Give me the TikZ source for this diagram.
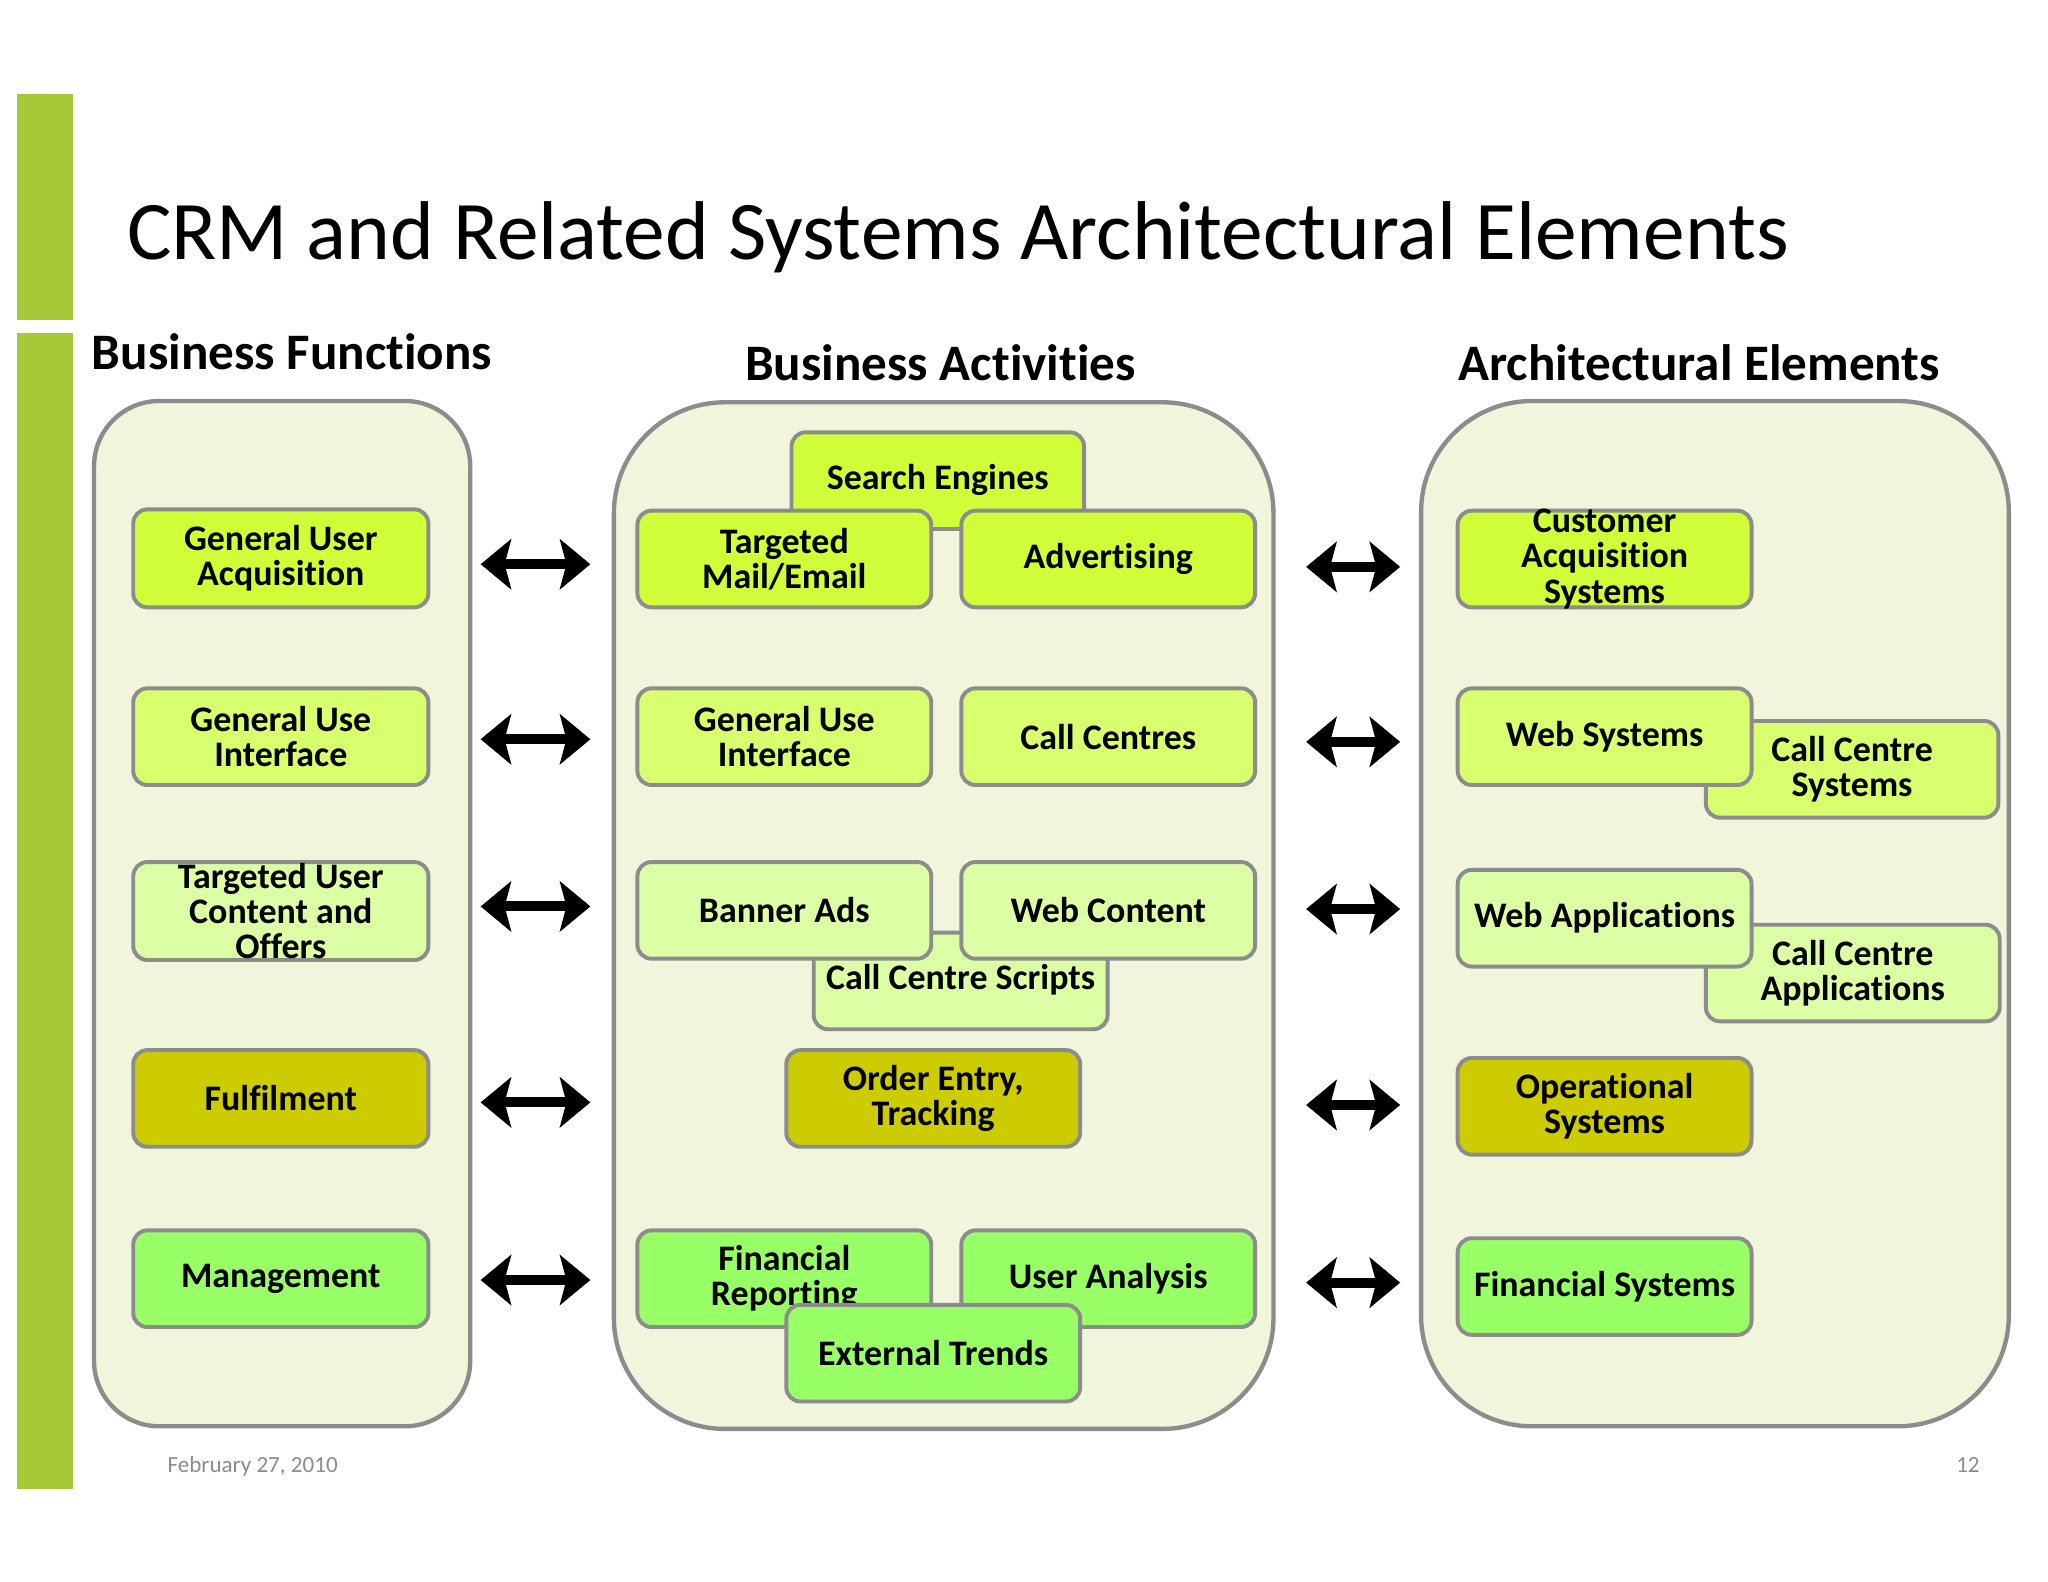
\documentclass[tikz,border=0pt]{standalone}
\usepackage{fontspec}
\setmainfont{Carlito}[RawFeature={-liga;-clig;-dlig;-calt}]
\usetikzlibrary{arrows.meta}
\definecolor{bargreen}{RGB}{166,202,55}
\definecolor{bordgray}{RGB}{140,140,140}
\definecolor{panelfill}{RGB}{240,245,220}
\definecolor{cA}{RGB}{208,255,58}
\definecolor{cB}{RGB}{215,255,110}
\definecolor{cC}{RGB}{220,255,165}
\definecolor{cD}{RGB}{204,204,0}
\definecolor{cE}{RGB}{153,255,102}
\definecolor{footgray}{RGB}{140,140,140}
\newcommand\tI{t\kern0pt i}
\newcommand\boxfont{\fontsize{16.5pt}{16.1pt}\selectfont\bfseries}
\newcommand\abox[7]{%
  \node[boxst, fill=#2, minimum width={(#5-#3)*0.6pt}, minimum height={(#6-#4)*0.6pt}] (#1) at ({(#3+#5)/2},{(#4+#6)/2}) {};
  \node[txt] (#1t) at (#1.center) {#7};}
\tikzset{
  panel/.style={draw=bordgray, line width=2pt, fill=panelfill, inner sep=0pt},
  boxst/.style={draw=bordgray, line width=1.8pt, rounded corners=6.5pt, inner sep=0pt},
  txt/.style={font=\boxfont, align=center, inner sep=0pt},
  dbl/.style={line width=4.6pt, {Stealth[length=14pt,width=23pt,inset=3pt]}-{Stealth[length=14pt,width=23pt,inset=3pt]}},
  head/.style={font=\fontsize{23.5pt}{28pt}\selectfont\bfseries, inner sep=0pt},
}
\begin{document}
\begin{tikzpicture}[x=0.6pt,y=-0.6pt]
\useasboundingbox (0,0) rectangle (1568,1211);
\fill[white] (0,0) rectangle (1568,1211);
% side bars
\node[fill=bargreen, minimum width={43*0.6pt}, minimum height={173*0.6pt}, inner sep=0pt] (bar1) at (34.5,158.5) {};
\node[fill=bargreen, minimum width={43*0.6pt}, minimum height={885*0.6pt}, inner sep=0pt] (bar2) at (34.5,697.5) {};
% title
\node[anchor=base west, inner sep=0pt, font=\fontsize{38.3pt}{45pt}\selectfont] (title) at (97,199) {CRM and Related Systems Architectural Elements};
% headings
\node[head, anchor=base west] (h1) at (70,283) {Business Func\tI ons};
\node[head, anchor=base] (h2) at (720,291) {Business Ac\tI vi\tI es};
\node[head, anchor=base] (h3) at (1301,291) {Architectural Elements};
% panels
\node[panel, rounded corners=30pt, minimum width={288*0.6pt}, minimum height={785*0.6pt}] (lp) at (216,699.5) {};
\node[panel, rounded corners=51pt, minimum width={505*0.6pt}, minimum height={786*0.6pt}] (mp) at (722.5,701) {};
\node[panel, rounded corners=51pt, minimum width={450*0.6pt}, minimum height={785*0.6pt}] (rp) at (1313,699.5) {};
% left column
\abox{gua}{cA}{102}{390}{328}{465}{General User\\Acquisi\tI on}
\abox{gui}{cB}{102}{527}{328}{601}{General Use\\Interface}
\abox{tuc}{cC}{102}{660}{328}{735}{Targeted User\\Content and\\Offers}
\abox{ful}{cD}{102}{804}{328}{878}{Fulfilment}
\abox{man}{cE}{102}{942}{328}{1016}{Management}
% middle column
\abox{se}{cA}{606}{331}{830}{405}{\raisebox{3pt}{Search Engines}}
\abox{tme}{cA}{488}{391}{713}{465}{Targeted\\Mail/Email}
\abox{adv}{cA}{736}{391}{961}{465}{Adver\tI sing}
\abox{mgui}{cB}{488}{527}{713}{601}{General Use\\Interface}
\abox{cc}{cB}{736}{527}{961}{601}{Call Centres}
\abox{ccs}{cC}{623}{714}{848}{788}{\raisebox{3.5pt}{Call Centre Scripts}}
\abox{ba}{cC}{488}{660}{713}{734}{Banner Ads}
\abox{wc}{cC}{736}{660}{961}{734}{Web Content}
\abox{oet}{cD}{602}{804}{827}{878}{Order Entry,\\Tracking}
\abox{fr}{cE}{488}{942}{713}{1016}{Financial\\Reporting}
\abox{ua}{cE}{736}{942}{961}{1016}{User Analysis}
\abox{et}{cE}{602}{999}{827}{1073}{External Trends}
% right column
\abox{cas}{cA}{1116}{391}{1341}{465}{Customer\\Acquisi\tI on\\Systems}
\abox{ccsys}{cB}{1306}{552}{1530}{626}{Call Centre\\Systems}
\abox{ws}{cB}{1116}{527}{1341}{601}{Web Systems}
\abox{cca}{cC}{1306}{708}{1531}{782}{Call Centre\\Applica\tI ons}
\abox{wa}{cC}{1116}{666}{1341}{740}{Web Applica\tI ons}
\abox{ops}{cD}{1116}{810}{1341}{884}{Opera\tI onal\\Systems}
\abox{fs}{cE}{1116}{948}{1341}{1022}{Financial Systems}
% arrows
\foreach \i/\y in {1/432,2/566,3/694,4/844,5/980}{
  \coordinate (la\i) at (368,\y);
  \coordinate (lb\i) at (452,\y);
  \draw[dbl] (la\i) -- (lb\i);
}
\foreach \i/\y in {1/434,2/568,3/696,4/846,5/982}{
  \coordinate (ra\i) at (1000,\y);
  \coordinate (rb\i) at (1072,\y);
  \draw[dbl] (ra\i) -- (rb\i);
}
% footer
\node[anchor=base west, inner sep=0pt, text=footgray, font=\fontsize{10.6pt}{12pt}\selectfont] (date) at (128,1127) {February 27, 2010};
\node[anchor=base east, inner sep=0pt, text=footgray, font=\fontsize{10.6pt}{12pt}\selectfont] (pg) at (1516,1127) {12};
\end{tikzpicture}
\end{document}
